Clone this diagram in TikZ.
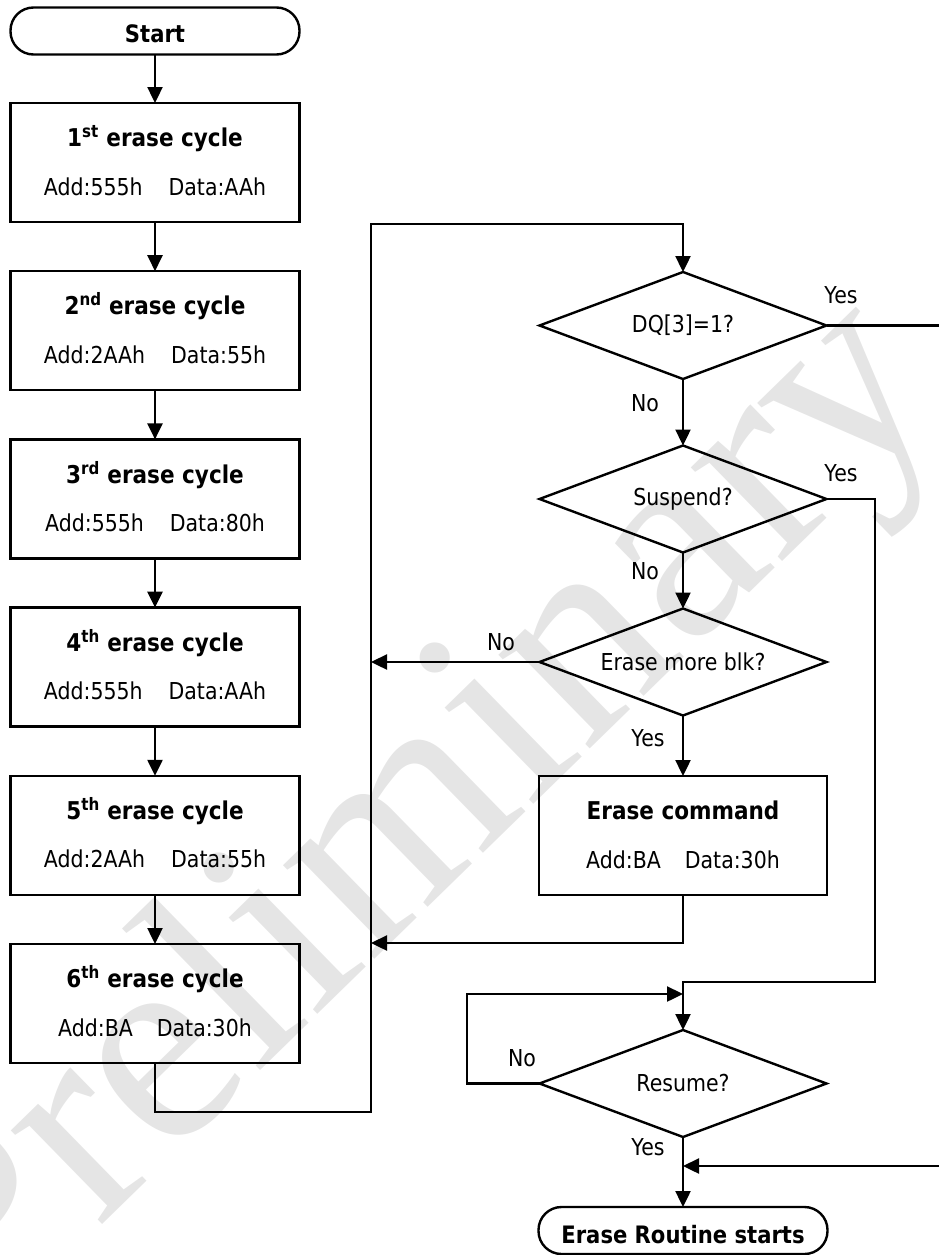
\documentclass[tikz,border=0pt]{standalone}
\usepackage{fontspec}
\setmainfont{DejaVu Sans}[FakeStretch=0.88]
\newfontfamily\wmfont{Liberation Serif}
\usetikzlibrary{shapes.geometric,arrows.meta,calc}
\newcommand\cyclebox[7]{%
  \node[proc] (#1) at (155,#2) {};
  \node[ttl, anchor=base] (#1t) at ([yshift=15.8pt]#1.center) {#3\textsuperscript{#4} erase cycle};
  \node[sub, anchor=base] (#1s) at ([yshift=-32.5pt]#1.center) {Add:#5\hspace{#7}Data:#6};
}
\begin{document}
\begin{tikzpicture}[x=1pt,y=-1pt,
  line width=2.4pt,
  every node/.style={inner sep=0pt, outer sep=0pt},
  proc/.style={draw, rectangle, minimum width=289pt, minimum height=119pt},
  term/.style={draw, rectangle, rounded corners=23pt, minimum width=289pt, minimum height=47pt},
  termtxt/.style={font=\fontsize{24}{28}\selectfont\bfseries},
  dec/.style={draw, diamond, aspect=2.68, minimum width=287pt, minimum height=107pt, font=\fontsize{23.3}{28}\selectfont},
  ttl/.style={font=\fontsize{24.5}{29}\selectfont\bfseries},
  sub/.style={font=\fontsize{23.3}{28}\selectfont},
  lbl/.style={font=\fontsize{23.3}{28}\selectfont},
  wm/.style={font=\wmfont\fontsize{285}{300}\selectfont, text=black!10},
  arr/.style={-{Triangle[length=16pt,width=15pt]}},
]
\useasboundingbox (0,0) rectangle (939,1255);
% watermark
\node[wm, rotate=44.3] (wmark) at (419,821) {Preliminary};

% left column
\node[term] (start) at (155,31) {};
\node[termtxt, anchor=base] (startt) at (155,43) {Start};
\cyclebox{b1}{162.5}{1}{st}{555h}{AAh}{26pt}
\cyclebox{b2}{330.7}{2}{nd}{2AAh}{55h}{26pt}
\cyclebox{b3}{498.9}{3}{rd}{555h}{80h}{26pt}
\cyclebox{b4}{667.1}{4}{th}{555h}{AAh}{26pt}
\cyclebox{b5}{835.3}{5}{th}{2AAh}{55h}{26pt}
\cyclebox{b6}{1003.5}{6}{th}{BA}{30h}{24pt}

% right column
\node[dec] (dq) at (683,325.5) {DQ[3]=1?};
\node[dec] (su) at (683,499) {Suspend?};
\node[dec] (em) at (683,662) {Erase more blk?};
\node[proc, minimum width=288pt] (cmd) at (683,835.5) {};
\node[ttl, anchor=base] (cmdt) at ([yshift=15.8pt]cmd.center) {Erase command};
\node[sub, anchor=base] (cmds) at ([yshift=-32.5pt]cmd.center) {Add:BA\hspace{24pt}Data:30h};
\node[dec] (re) at (683,1083.5) {Resume?};
\node[term] (fin) at (683,1230.5) {};
\node[termtxt, anchor=base] (fint) at (683,1243) {Erase Routine starts};

% helper coordinates
\coordinate (lb) at (371,1112);
\coordinate (lt) at (371,224);
\coordinate (dqr) at (939,325.5);
\coordinate (sr) at (875,982);
\coordinate (cmdj) at (371,943);
\coordinate (rl) at (467,994);
\coordinate (rin) at (939,1166);

% connectors
\draw[arr] (start) -- (b1);
\draw[arr] (b1) -- (b2);
\draw[arr] (b2) -- (b3);
\draw[arr] (b3) -- (b4);
\draw[arr] (b4) -- (b5);
\draw[arr] (b5) -- (b6);
\draw[arr] (b6.south) |- (lb) -- (lt) -| (dq.north);
\draw (dq.east) -- (dqr);
\draw[arr] (dq.south) -- (su.north);
\draw[arr] (su.east) -| (sr) -| (re.north);
\draw[arr] (su.south) -- (em.north);
\draw[arr] (em.west) -- (em.west -| lb);
\draw[arr] (em.south) -- (cmd.north);
\draw[arr] (cmd.south) |- (cmdj);
\draw[arr] (re.west) -| (rl) -- (rl -| re.north);
\draw[arr] (re.south) -- (fin.north);
\draw[arr] (rin) -- (rin -| re.south);

% labels
\node[lbl] (l1) at (841,295) {Yes};
\node[lbl] (l2) at (645,403) {No};
\node[lbl] (l3) at (841,473) {Yes};
\node[lbl] (l4) at (645,571) {No};
\node[lbl] (l5) at (501,642) {No};
\node[lbl] (l6) at (648,738) {Yes};
\node[lbl] (l7) at (522,1058) {No};
\node[lbl] (l8) at (648,1147) {Yes};
\end{tikzpicture}
\end{document}
